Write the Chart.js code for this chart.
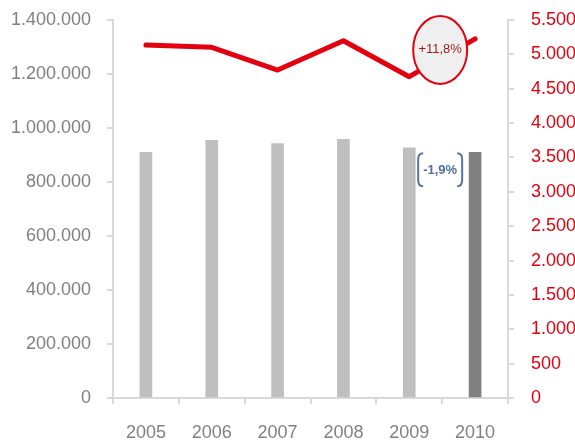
<!DOCTYPE html>
<html>
<head>
<meta charset="utf-8">
<script src="https://cdn.jsdelivr.net/npm/chart.js@4.4.0/dist/chart.umd.min.js"></script>
<style>
  html, body { margin: 0; padding: 0; background: #fff; }
  #wrap { width: 575px; height: 442px; }
</style>
</head>
<body>
<div id="wrap"><canvas id="myChart" width="575" height="442"></canvas></div>
<script>
var years = ['2005', '2006', '2007', '2008', '2009', '2010'];
var barValues = [910000, 954000, 942000, 958000, 927000, 910000];
var lineValues = [5136, 5103, 4772, 5199, 4675, 5225];
var barChange = '-1,9%';
var lineChange = '+11,8%';

var grey = '#808080';
var red = '#e3000f';
var axisColor = '#d9d9d9';
var tickFont = { family: '"Liberation Sans", Arial, sans-serif', size: 18 };

function dots(v){
  return String(v).replace(/\B(?=(\d{3})+(?!\d))/g, '.');
}

// the tick padding would otherwise push the plot area down
function fitY(w){
  return function(s){
    s.width = w;
    s.paddingTop = 0;
    s.paddingBottom = 0;
  };
}

var notes = {
  id: 'notes',
  afterDatasetsDraw(chart){
    var c = chart.ctx;
    var x = chart.scales.x;
    var y = chart.scales.y;
    var y1 = chart.scales.y1;
    var mid = (x.getPixelForValue(4) + x.getPixelForValue(5)) / 2 - 2;

    // ellipse over the line
    var ey = y1.getPixelForValue(lineValues[5]) + 11;
    c.save();
    c.beginPath();
    c.ellipse(mid, ey, 27, 34, 0, 0, Math.PI * 2);
    c.fillStyle = '#efefef';
    c.fill();
    c.lineWidth = 2;
    c.strokeStyle = red;
    c.stroke();
    c.fillStyle = '#9b1c1c';
    c.font = '13px "Liberation Sans", Arial, sans-serif';
    c.textAlign = 'center';
    c.textBaseline = 'middle';
    c.fillText(lineChange, mid, ey);

    // bracket between the bars
    var top = y.getPixelForValue(barValues[5]) + 1;
    var bot = top + 33;
    var lx = mid - 22, rx = mid + 22;
    c.strokeStyle = '#5575a8';
    c.lineWidth = 2;
    c.beginPath();
    c.moveTo(lx + 5, top);
    c.quadraticCurveTo(lx, top, lx, top + 6);
    c.lineTo(lx, bot - 6);
    c.quadraticCurveTo(lx, bot, lx + 5, bot);
    c.moveTo(rx - 5, top);
    c.quadraticCurveTo(rx, top, rx, top + 6);
    c.lineTo(rx, bot - 6);
    c.quadraticCurveTo(rx, bot, rx - 5, bot);
    c.stroke();
    c.fillStyle = '#4f6fa0';
    c.font = 'bold 13px "Liberation Sans", Arial, sans-serif';
    c.fillText(barChange, mid, (top + bot) / 2 + 1);
    c.restore();
  }
};

var ctx = document.getElementById('myChart').getContext('2d');
var chart = new Chart(ctx, {
  type: 'bar',
  data: {
    labels: years,
    datasets: [{
      type: 'line',
      data: lineValues,
      yAxisID: 'y1',
      borderColor: red,
      borderWidth: 5,
      borderCapStyle: 'round',
      borderJoinStyle: 'round',
      pointRadius: 0,
      tension: 0,
      order: 0
    }, {
      type: 'bar',
      data: barValues,
      yAxisID: 'y',
      backgroundColor: ['#bfbfbf', '#bfbfbf', '#bfbfbf', '#bfbfbf', '#bfbfbf', '#808080'],
      barThickness: 12,
      order: 1
    }]
  },
  options: {
    responsive: false,
    animation: false,
    events: [],
    layout: { padding: { top: 20, left: 0, right: 0, bottom: 0 } },
    plugins: { legend: { display: false }, tooltip: { enabled: false } },
    scales: {
      x: {
        offset: true,
        grid: { offset: true, drawOnChartArea: false, tickLength: 6, color: axisColor, lineWidth: 2 },
        border: { color: axisColor, width: 2 },
        ticks: { color: grey, padding: 18, font: tickFont },
        afterFit(s){ s.height = 44; }
      },
      y: {
        position: 'left',
        min: 0,
        max: 1400000,
        grid: { drawOnChartArea: false, tickLength: 6, color: axisColor, lineWidth: 2 },
        border: { color: axisColor, width: 2 },
        ticks: {
          stepSize: 200000,
          color: grey,
          padding: 16,
          font: tickFont,
          callback: function(v){ return dots(v); }
        },
        afterFit: fitY(113)
      },
      y1: {
        position: 'right',
        min: 0,
        max: 5500,
        grid: { drawOnChartArea: false, tickLength: 6, color: axisColor, lineWidth: 2 },
        border: { color: axisColor, width: 2 },
        ticks: {
          stepSize: 500,
          color: red,
          padding: 17,
          font: tickFont,
          callback: function(v){ return dots(v); }
        },
        afterFit: fitY(67)
      }
    }
  },
  plugins: [notes]
});
</script>
</body>
</html>
